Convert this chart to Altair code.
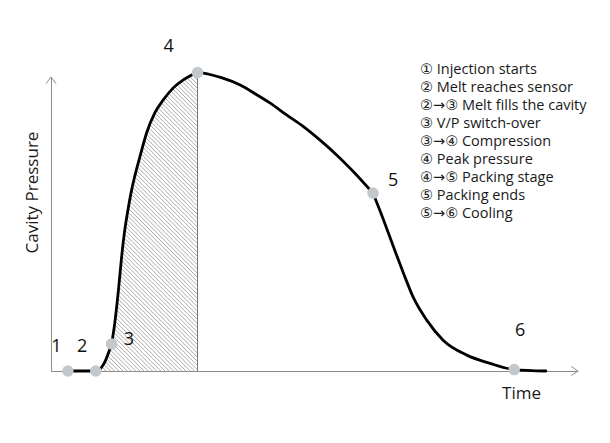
import altair as alt
import pandas as pd
import numpy as np

# ---- data (arbitrary units: time 0..10, pressure 0..100) ----
time = [0.32, 0.85, 1.01, 1.15, 1.21, 1.28, 1.34, 1.40, 1.47, 1.53,
        1.59, 1.69, 1.82, 1.97, 2.13, 2.32, 2.51, 2.67, 2.78,
        3.26, 3.59, 3.91, 4.16, 4.47, 4.79, 5.10, 5.42, 5.74,
        6.11, 6.31, 6.50, 6.69, 6.87, 7.13, 7.44, 7.89, 8.33, 8.79, 9.39]
pressure = [0, 0, 2.7, 9.2, 16.3, 27.6, 38.8, 48.0, 55.8, 61.6,
            66.3, 73.1, 81.3, 87.8, 92.2, 96.3, 99.0, 100.7, 101.5,
            99.6, 97.3, 93.9, 91.1, 87.1, 83.1, 78.6, 73.5, 67.8,
            60.5, 51.4, 42.2, 33.2, 25.2, 17.3, 10.5, 5.4, 2.6, 0.5, 0]
# the curve has visible corners at stage 3 and stage 5 (indices into the arrays)
corner_index = [3, 28]

stage_ids = ["1", "2", "3", "4", "5", "6"]
stage_time = [0.32, 0.85, 1.15, 2.78, 6.11, 8.79]
stage_pressure = [0, 0, 9.2, 101.5, 60.5, 0.5]
label_time = [0.10, 0.59, 1.48, 2.23, 6.49, 8.90]
label_pressure = [8.2, 8.2, 10.5, 110.2, 64.6, 13.6]

legend_lines = [
    "① Injection starts",
    "② Melt reaches sensor",
    "②→③ Melt fills the cavity",
    "③ V/P switch-over",
    "③→④ Compression",
    "④ Peak pressure",
    "④→⑤ Packing stage",
    "⑤ Packing ends",
    "⑤→⑥ Cooling",
]

x_title = "Time"
y_title = "Cavity Pressure"

# ---- layout ----
W, H = 527, 294
XMAX, YMAX = 10.0, 100.0
kx, ky = W / XMAX, H / YMAX
FONT = "Open Sans"
LEGEND_FONT = "Open Sans, DejaVu Sans, Noto Sans CJK SC"

# split the curve into smooth pieces joined at the corners
bounds = [0] + corner_index + [len(time) - 1]
pieces = []
for s, (a, b) in enumerate(zip(bounds[:-1], bounds[1:])):
    for i in range(a, b + 1):
        pieces.append({"t": time[i], "p": pressure[i], "i": i, "seg": s})
curve = pd.DataFrame(pieces)

stages = pd.DataFrame({"t": stage_time, "p": stage_pressure, "id": stage_ids,
                       "lt": label_time, "lp": label_pressure})
stages["zero"] = 0.0


# ---- hatch under the curve between stage 2 and stage 4 (decoration) ----
def monotone_samples(x, y, n=60):
    """Sample the same monotone-x cubic that Vega draws through (x, y)."""
    x = np.asarray(x, float); y = np.asarray(y, float)
    h = np.diff(x); s = np.diff(y) / h
    m = len(x)
    tg = np.zeros(m)
    sg = lambda v: -1.0 if v < 0 else 1.0
    for i in range(1, m - 1):
        p = (s[i - 1] * h[i] + s[i] * h[i - 1]) / (h[i - 1] + h[i])
        tg[i] = (sg(s[i - 1]) + sg(s[i])) * min(abs(s[i - 1]), abs(s[i]), 0.5 * abs(p))
    tg[0] = (3 * s[0] - tg[1]) / 2
    tg[-1] = (3 * s[-1] - tg[-2]) / 2
    xs_, ys_ = [], []
    for i in range(m - 1):
        dx = h[i] / 3
        P0, P1, P2, P3 = y[i], y[i] + dx * tg[i], y[i + 1] - dx * tg[i + 1], y[i + 1]
        u = np.linspace(0, 1, n)
        xs_.append(x[i] + u * h[i])
        ys_.append((1 - u) ** 3 * P0 + 3 * (1 - u) ** 2 * u * P1 + 3 * (1 - u) * u ** 2 * P2 + u ** 3 * P3)
    return np.concatenate(xs_), np.concatenate(ys_)


sxs, sys_ = [], []
for s in sorted(curve["seg"].unique())[:2]:
    part = curve[curve["seg"] == s]
    a, b = monotone_samples(part["t"].values * kx, part["p"].values * ky)
    sxs.append(a); sys_.append(b)
sx, sy = np.concatenate(sxs), np.concatenate(sys_)
order = np.argsort(sx, kind="stable")
sx, sy = sx[order], sy[order]

X0, X1 = stage_time[1] * kx, stage_time[3] * kx
V = stage_pressure[3] * ky
sel = (sx >= X0) & (sx <= X1)
gx, gv = sx[sel], sy[sel]
g = gv + gx
rows = []
for c in np.arange(X0 + 2.0, X1 + V, 4.2):
    xstar = float(np.interp(c, g, gx))
    xa, xb = max(X0, xstar), min(X1, c)
    if xb > xa:
        rows.append({"t": xa / kx, "p": (c - xa) / ky, "t2": xb / kx, "p2": (c - xb) / ky})
hatch = pd.DataFrame(rows)

xs = alt.Scale(domain=[0, XMAX], nice=False, zero=False)
ys = alt.Scale(domain=[0, YMAX], nice=False, zero=False)

x_axis = alt.Axis(labels=False, ticks=False, grid=False, domainColor="#8c8c8c",
                  domainWidth=1, title=x_title, titleX=470, titleY=22,
                  titleAlign="center", titleBaseline="middle", titleFontSize=17,
                  titleFontWeight="normal", titleColor="#1a1a1a", titleFont=FONT)
y_axis = alt.Axis(labels=False, ticks=False, grid=False, domainColor="#8c8c8c",
                  domainWidth=1, title=y_title, titleX=-19, titleY=115, titleAngle=270,
                  titleAlign="center", titleBaseline="middle", titleFontSize=17,
                  titleFontWeight="normal", titleColor="#1a1a1a", titleFont=FONT)

hatch_layer = alt.Chart(hatch).mark_rule(color="#949494", strokeWidth=0.8).encode(
    x=alt.X("t:Q", scale=xs, axis=x_axis),
    y=alt.Y("p:Q", scale=ys, axis=y_axis),
    x2="t2:Q", y2="p2:Q")

edge = alt.Chart(stages.iloc[[3]]).mark_rule(color="#7a7a7a", strokeWidth=1).encode(
    x=alt.X("t:Q", scale=xs), y=alt.Y("zero:Q", scale=ys), y2="p:Q")

line = alt.Chart(curve).mark_line(color="black", strokeWidth=2.8, strokeCap="round",
                                  interpolate="monotone").encode(
    x=alt.X("t:Q", scale=xs), y=alt.Y("p:Q", scale=ys),
    detail="seg:N", order="i:Q")

pts = alt.Chart(stages).mark_point(filled=True, color="#c3c8cd", opacity=1,
                                   size=135, shape="circle").encode(
    x=alt.X("t:Q", scale=xs), y=alt.Y("p:Q", scale=ys))

labels = alt.Chart(stages).mark_text(fontSize=18, font=FONT, color="#111111",
                                     align="center", baseline="middle").encode(
    x=alt.X("lt:Q", scale=xs), y=alt.Y("lp:Q", scale=ys), text="id:N")

arrow_x = alt.Chart(pd.DataFrame({"t": [XMAX], "p": [0.0]})).mark_point(
    shape="M-1,-0.67L0,0L-1,0.67", filled=False, color="#8c8c8c",
    strokeWidth=1, size=180, opacity=1).encode(
    x=alt.X("t:Q", scale=xs), y=alt.Y("p:Q", scale=ys))
arrow_y = alt.Chart(pd.DataFrame({"t": [0.0], "p": [YMAX]})).mark_point(
    shape="M-0.75,1L0,0L0.75,1", filled=False, color="#8c8c8c",
    strokeWidth=1, size=180, opacity=1).encode(
    x=alt.X("t:Q", scale=xs), y=alt.Y("p:Q", scale=ys))

legend = alt.Chart(pd.DataFrame({"txt": ["\n".join(legend_lines)]})).mark_text(
    align="left", baseline="alphabetic", fontSize=14.5, font=LEGEND_FONT, color="#1a1a1a",
    lineBreak="\n", lineHeight=18).encode(
    x=alt.value(369), y=alt.value(-3), text="txt:N")

chart = alt.layer(hatch_layer, edge, line, pts, labels, arrow_x, arrow_y, legend).properties(
    width=W, height=H,
    autosize=alt.AutoSizeParams(type="none"),
    padding={"left": 51, "top": 77, "right": 32, "bottom": 72},
    background="white",
).configure_view(stroke=None)

chart.save("out.html", embed_options={"renderer": "svg", "actions": False})
